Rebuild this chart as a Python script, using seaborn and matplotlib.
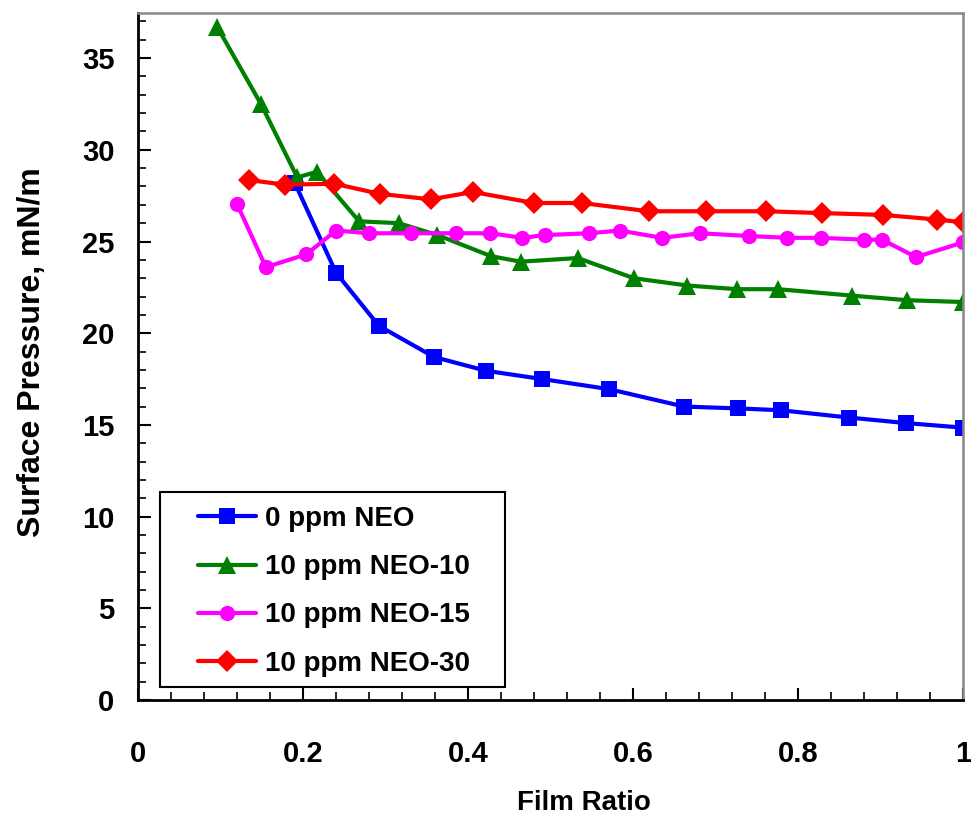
import numpy as np
import pandas as pd
import matplotlib
matplotlib.use("Agg")
import matplotlib.pyplot as plt
import seaborn as sns
from matplotlib.ticker import MultipleLocator, FuncFormatter
from matplotlib.patches import Rectangle

sns.set_theme(style="white")
plt.rcParams["font.family"] = ["Liberation Sans", "DejaVu Sans"]
plt.rcParams["font.weight"] = "bold"
for key in ["text.color", "axes.labelcolor", "xtick.color", "ytick.color"]:
    plt.rcParams[key] = "black"

# Surface pressure (mN/m) versus film ratio for each formulation
x_neo0 = [0.19, 0.24, 0.292, 0.359, 0.422, 0.49, 0.571, 0.662, 0.727, 0.779, 0.862, 0.931, 1.0]
y_neo0 = [28.2, 23.3, 20.4, 18.7, 17.95, 17.5, 16.95, 16.0, 15.9, 15.8, 15.4, 15.1, 14.85]

x_neo10 = [0.096, 0.149, 0.193, 0.217, 0.268, 0.316, 0.363, 0.428, 0.464, 0.533,
           0.601, 0.666, 0.726, 0.776, 0.865, 0.932, 1.0]
y_neo10 = [36.7, 32.5, 28.5, 28.8, 26.1, 26.0, 25.35, 24.2, 23.9, 24.1,
           23.0, 22.6, 22.4, 22.4, 22.05, 21.8, 21.7]

x_neo15 = [0.12, 0.155, 0.204, 0.24, 0.28, 0.331, 0.385, 0.427, 0.466, 0.493,
           0.547, 0.584, 0.635, 0.681, 0.741, 0.787, 0.828, 0.88, 0.902, 0.943, 1.0]
y_neo15 = [27.05, 23.6, 24.3, 25.6, 25.45, 25.45, 25.45, 25.45, 25.2, 25.35,
           25.45, 25.6, 25.2, 25.45, 25.3, 25.2, 25.2, 25.1, 25.1, 24.15, 24.95]

x_neo30 = [0.1345, 0.178, 0.238, 0.293, 0.355, 0.406, 0.48, 0.538, 0.619, 0.689,
           0.761, 0.829, 0.903, 0.968, 1.0]
y_neo30 = [28.35, 28.1, 28.15, 27.6, 27.3, 27.7, 27.1, 27.1, 26.65, 26.65,
           26.65, 26.55, 26.45, 26.2, 26.05]

labels = ["0 ppm NEO", "10 ppm NEO-10", "10 ppm NEO-15", "10 ppm NEO-30"]
colors = ["#0000FF", "#008000", "#FF00FF", "#FF0000"]
markers = ["s", "^", "o", "D"]
marker_sizes = [11.5, 13, 11, 11]

frames = []
for lab, xs, ys in zip(labels, [x_neo0, x_neo10, x_neo15, x_neo30],
                       [y_neo0, y_neo10, y_neo15, y_neo30]):
    frames.append(pd.DataFrame({"Film Ratio": xs, "Pressure": ys, "Series": lab}))
df = pd.concat(frames, ignore_index=True)

W, H = 971, 818
fig = plt.figure(figsize=(W / 100, H / 100), dpi=100)
ax = fig.add_axes([138 / W, 1 - 700 / H, 825 / W, 687 / H])

for lab, col, mk, ms in zip(labels, colors, markers, marker_sizes):
    sub = df[df["Series"] == lab]
    sns.lineplot(data=sub, x="Film Ratio", y="Pressure", ax=ax, color=col,
                 marker=mk, markersize=ms, markeredgewidth=0, linewidth=3,
                 label=lab, sort=False, estimator=None)

ax.set_xlim(0, 1)
ax.set_ylim(0, 37.46)
ax.xaxis.set_major_locator(MultipleLocator(0.2))
ax.xaxis.set_minor_locator(MultipleLocator(0.04))
ax.yaxis.set_major_locator(MultipleLocator(5))
ax.yaxis.set_minor_locator(MultipleLocator(1))
ax.xaxis.set_major_formatter(FuncFormatter(
    lambda v, p: "0" if abs(v) < 1e-9 else ("1" if abs(v - 1) < 1e-9 else f"{v:.1f}")))

ax.tick_params(axis="both", which="major", direction="in", length=9, width=1.5,
               color="black", labelsize=21, left=True, bottom=True)
ax.tick_params(axis="both", which="minor", direction="in", length=6, width=1.2,
               color="black", left=True, bottom=True)
ax.tick_params(axis="x", which="major", pad=29)
ax.tick_params(axis="y", which="major", pad=17)
for t in ax.get_xticklabels() + ax.get_yticklabels():
    t.set_fontweight("bold")

for side in ["left", "bottom"]:
    ax.spines[side].set_color("black")
    ax.spines[side].set_linewidth(2)
for side in ["top", "right"]:
    ax.spines[side].set_color("#888888")
    ax.spines[side].set_linewidth(1.8)

ax.set_xlabel("Film Ratio", fontsize=20, fontweight="bold")
ax.set_ylabel("Surface Pressure, mN/m", fontsize=23, fontweight="bold")
ax.xaxis.set_label_coords((584 - 138) / 825, (700 - 790) / 687)
ax.yaxis.set_label_coords((47 - 138) / 825, (700 - 352) / 687)

# legend entries without their own frame; the box is drawn separately
leg = ax.legend(loc="upper left", bbox_to_anchor=((198 - 138) / 825, (700 - 506) / 687),
                frameon=False, fontsize=20, handlelength=2.1,
                borderpad=0, labelspacing=0.8, handletextpad=0.3, borderaxespad=0)
for t in leg.get_texts():
    t.set_fontweight("bold")
ax.add_patch(Rectangle(((160 - 138) / 825, (700 - 687) / 687), 345 / 825, 195 / 687,
                       transform=ax.transAxes, fill=True, facecolor="white",
                       edgecolor="black", linewidth=1.5, zorder=4))
leg.set_zorder(5)

fig.savefig("out.png", dpi=100)
